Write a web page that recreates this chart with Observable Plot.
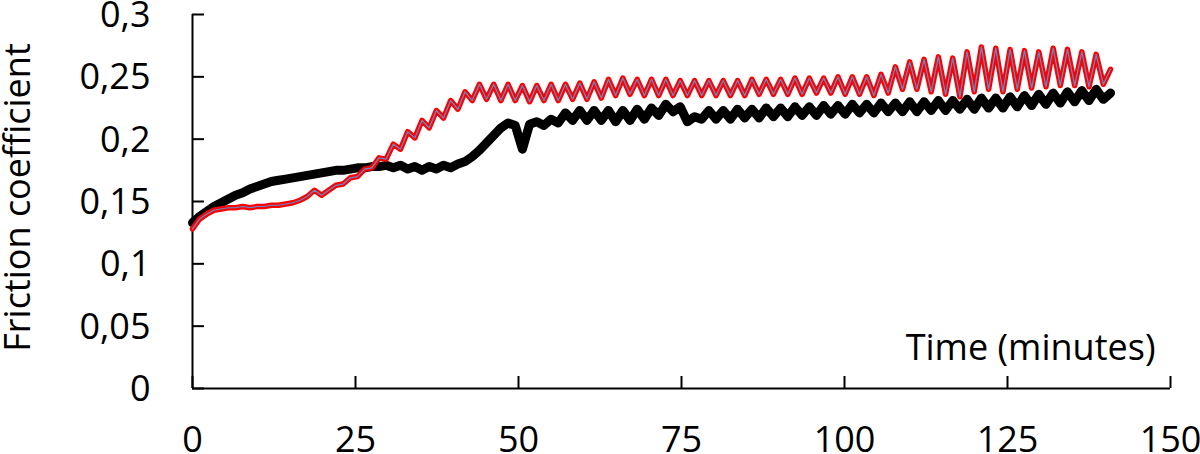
<!DOCTYPE html>
<html>
<head>
<meta charset="utf-8">
<script src="https://cdn.jsdelivr.net/npm/d3@7"></script>
<script src="https://cdn.jsdelivr.net/npm/@observablehq/plot@0.6"></script>
<style>
  html, body { margin: 0; padding: 0; background: #fff; }
  #chart svg { display: block; }
</style>
</head>
<body>
<div id="chart"></div>
<script>
// Sample times (minutes)
const time = [0, 1.1, 2.2, 3.3, 4.4, 5.5, 6.6, 7.7, 8.8, 9.9, 11, 12.1, 13.2, 14.3, 15.4, 16.5, 17.6, 18.7, 19.8, 20.9,
  22, 23.1, 24.2, 25.3, 26.4, 27.5, 28.6, 29.7, 30.8, 31.9, 33, 34.1, 35.2, 36.3, 37.4, 38.5, 39.6, 40.7, 41.8, 42.9,
  44, 45.1, 46.2, 47.3, 48.4, 49.5, 50.6, 51.7, 52.8, 53.9, 55, 56.1, 57.2, 58.3, 59.4, 60.5, 61.6, 62.7, 63.8, 64.9,
  66, 67.1, 68.2, 69.3, 70.4, 71.5, 72.6, 73.7, 74.8, 75.9, 77, 78.1, 79.2, 80.3, 81.4, 82.5, 83.6, 84.7, 85.8, 86.9,
  88, 89.1, 90.2, 91.3, 92.4, 93.5, 94.6, 95.7, 96.8, 97.9, 99, 100.1, 101.2, 102.3, 103.4, 104.5, 105.6, 106.7, 107.8, 108.9,
  110, 111.1, 112.2, 113.3, 114.4, 115.5, 116.6, 117.7, 118.8, 119.9, 121, 122.1, 123.2, 124.3, 125.4, 126.5, 127.6, 128.7, 129.8, 130.9,
  132, 133.1, 134.2, 135.3, 136.4, 137.5, 138.6, 139.7, 140.8];

// Black series
const blackSeries = [0.133, 0.138, 0.142, 0.146, 0.149, 0.152, 0.155, 0.157, 0.160, 0.162, 0.164, 0.166, 0.167, 0.168, 0.169, 0.170, 0.171, 0.172, 0.173, 0.174,
  0.175, 0.175, 0.176, 0.177, 0.177, 0.178, 0.178, 0.179, 0.177, 0.179, 0.176, 0.178, 0.175, 0.178, 0.176, 0.179, 0.177, 0.180, 0.182, 0.186,
  0.191, 0.197, 0.203, 0.209, 0.213, 0.211, 0.192, 0.212, 0.214, 0.211, 0.216, 0.213, 0.221, 0.215, 0.223, 0.215, 0.223, 0.215, 0.223, 0.214,
  0.223, 0.215, 0.224, 0.216, 0.225, 0.219, 0.228, 0.222, 0.226, 0.214, 0.218, 0.216, 0.223, 0.216, 0.223, 0.216, 0.224, 0.217, 0.224, 0.217,
  0.225, 0.218, 0.225, 0.218, 0.226, 0.219, 0.226, 0.219, 0.227, 0.220, 0.227, 0.220, 0.228, 0.221, 0.228, 0.221, 0.229, 0.222, 0.229, 0.222,
  0.230, 0.222, 0.230, 0.223, 0.231, 0.223, 0.231, 0.224, 0.232, 0.224, 0.233, 0.225, 0.233, 0.225, 0.234, 0.226, 0.235, 0.227, 0.236, 0.228,
  0.237, 0.229, 0.238, 0.230, 0.239, 0.231, 0.240, 0.232, 0.237];

// Red series (blue series follows it almost exactly)
const redSeries = [0.128, 0.136, 0.140, 0.143, 0.144, 0.145, 0.145, 0.146, 0.145, 0.146, 0.146, 0.147, 0.147, 0.148, 0.149, 0.151, 0.154, 0.159, 0.155, 0.159,
  0.163, 0.164, 0.169, 0.170, 0.176, 0.177, 0.185, 0.184, 0.196, 0.192, 0.206, 0.201, 0.215, 0.209, 0.223, 0.217, 0.231, 0.224, 0.238, 0.231,
  0.244, 0.232, 0.244, 0.231, 0.244, 0.231, 0.243, 0.230, 0.243, 0.231, 0.244, 0.231, 0.244, 0.232, 0.245, 0.232, 0.246, 0.233, 0.248, 0.235,
  0.249, 0.236, 0.248, 0.235, 0.248, 0.235, 0.248, 0.235, 0.247, 0.235, 0.247, 0.235, 0.247, 0.235, 0.247, 0.235, 0.247, 0.235, 0.248, 0.236,
  0.248, 0.236, 0.248, 0.236, 0.249, 0.236, 0.249, 0.237, 0.249, 0.237, 0.250, 0.236, 0.250, 0.236, 0.250, 0.235, 0.252, 0.237, 0.258, 0.240,
  0.262, 0.240, 0.264, 0.238, 0.266, 0.236, 0.265, 0.234, 0.270, 0.238, 0.274, 0.240, 0.273, 0.238, 0.272, 0.240, 0.271, 0.241, 0.270, 0.242,
  0.273, 0.243, 0.272, 0.243, 0.270, 0.242, 0.268, 0.244, 0.256];
const blueSeries = redSeries;

// Axis ticks and labels
const xTicks = [0, 25, 50, 75, 100, 125, 150];
const yTicks = [0, 0.05, 0.1, 0.15, 0.2, 0.25, 0.3];
const yTickLabels = ["0", "0,05", "0,1", "0,15", "0,2", "0,25", "0,3"];
const yTitle = "Friction coefficient";
const xTitle = "Time (minutes)";

const black = time.map((t, i) => ({t, v: blackSeries[i]}));
const red = time.map((t, i) => ({t, v: redSeries[i]}));
const blue = time.map((t, i) => ({t, v: blueSeries[i]}));

const FONT = "'Open Sans', sans-serif";
const FS = 36;

const chart = Plot.plot({
  width: 1200,
  height: 454,
  marginLeft: 192,
  marginRight: 30,
  marginTop: 14,
  marginBottom: 66,
  style: {fontFamily: FONT, fontSize: FS + "px", color: "#000", background: "#fff"},
  x: {domain: [0, 150]},
  y: {domain: [0, 0.3]},
  marks: [
    // axis lines
    Plot.ruleX([0], {stroke: "#000", strokeWidth: 2}),
    Plot.ruleY([0], {stroke: "#000", strokeWidth: 2}),
    // inward ticks
    Plot.axisY({ticks: yTicks, tickSize: -12, text: null, strokeWidth: 2, label: null}),
    Plot.axisX({ticks: xTicks, tickSize: -12, text: null, strokeWidth: 2, label: null}),
    // tick labels
    Plot.axisY({ticks: yTicks, tickSize: 0, tickPadding: 42, tickFormat: d => yTickLabels[yTicks.indexOf(d)], label: null, fontSize: FS, dy: 1}),
    Plot.axisX({ticks: xTicks, tickSize: 0, tickPadding: 38, tickFormat: d => String(d), label: null, fontSize: FS}),
    // titles
    Plot.text([yTitle], {text: d => d, frameAnchor: "left", textAnchor: "middle", lineAnchor: "middle", rotate: -90, dx: -174, dy: -4, fontSize: FS, fill: "#000"}),
    Plot.text([xTitle], {text: d => d, frameAnchor: "bottom-right", textAnchor: "end", lineAnchor: "bottom", dx: -15, dy: -29, fontSize: FS, fill: "#000"}),
    // series
    Plot.line(black, {x: "t", y: "v", stroke: "#000", strokeWidth: 9, strokeLinejoin: "round", strokeLinecap: "round"}),
    Plot.line(red, {x: "t", y: "v", stroke: "#ff0000", strokeWidth: 5.5, strokeLinejoin: "round", strokeLinecap: "round"}),
    Plot.line(blue, {x: "t", y: "v", stroke: "#5b8fd0", strokeWidth: 1.2, strokeLinejoin: "round", strokeLinecap: "round"})
  ]
});
document.getElementById("chart").appendChild(chart);
</script>
</body>
</html>
